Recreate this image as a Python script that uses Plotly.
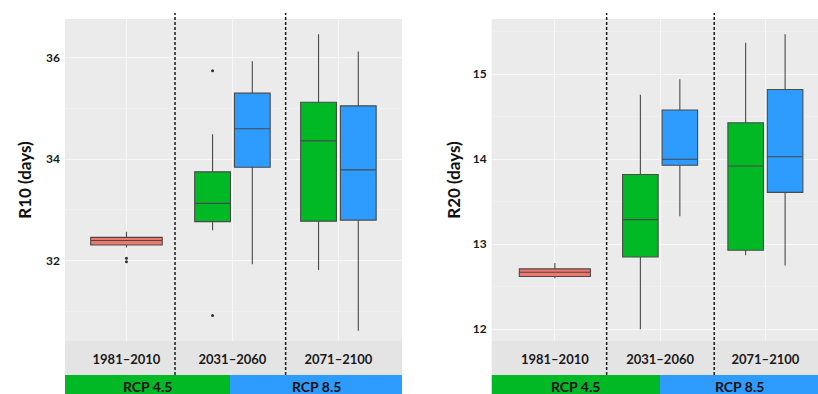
import plotly.graph_objects as go

# ---------------- data ----------------
periods = ["1981–2010", "2031–2060", "2071–2100"]
proj_periods = ["2031–2060", "2071–2100"]
scenarios = ["RCP 4.5", "RCP 8.5"]

# R10 (days) – box statistics
r10_hist_lower = [32.26]
r10_hist_q1 = [32.31]
r10_hist_med = [32.40]
r10_hist_q3 = [32.46]
r10_hist_upper = [32.57]
r10_hist_outliers = [[32.05, 31.98]]

r10_rcp45_lower = [32.60, 31.82]
r10_rcp45_q1 = [32.77, 32.78]
r10_rcp45_med = [33.13, 34.36]
r10_rcp45_q3 = [33.75, 35.12]
r10_rcp45_upper = [34.49, 36.46]
r10_rcp45_outliers = [[35.74, 30.92], []]

r10_rcp85_lower = [31.93, 30.62]
r10_rcp85_q1 = [33.84, 32.80]
r10_rcp85_med = [34.60, 33.79]
r10_rcp85_q3 = [35.30, 35.05]
r10_rcp85_upper = [35.93, 36.12]

# R20 (days)
r20_hist_lower = [12.60]
r20_hist_q1 = [12.62]
r20_hist_med = [12.67]
r20_hist_q3 = [12.71]
r20_hist_upper = [12.78]

r20_rcp45_lower = [12.00, 12.87]
r20_rcp45_q1 = [12.85, 12.93]
r20_rcp45_med = [13.29, 13.92]
r20_rcp45_q3 = [13.82, 14.43]
r20_rcp45_upper = [14.76, 15.37]

r20_rcp85_lower = [13.33, 12.75]
r20_rcp85_q1 = [13.93, 13.61]
r20_rcp85_med = [14.00, 14.03]
r20_rcp85_q3 = [14.58, 14.82]
r20_rcp85_upper = [14.94, 15.47]

# ---------------- style ----------------
hist_color = "#F2766B"
scen_colors = ["#00B924", "#2E9BFF"]
box_line = "#4a4a4a"
FONT = "Lato"
W, H = 818, 394

def px_x(p):
    return p / W

def px_y(p):
    return 1 - p / H

plot_top, plot_bot, strip_bot = 19, 341, 375
left_dom = [px_x(65), px_x(402)]
right_dom = [px_x(491.7), 1.0]
y_dom = [px_y(plot_bot), px_y(plot_top)]

fig = go.Figure()

def add_box(name, x, lo, q1, med, q3, hi, color, xa, ya, ag, og, outliers=None):
    if outliers is not None:
        kw = dict(y=outliers, boxpoints="outliers", jitter=0, pointpos=0,
                  marker=dict(color="#333333", size=3))
    else:
        kw = dict(boxpoints=False)
    fig.add_trace(go.Box(
        name=name, x=x, lowerfence=lo, q1=q1, median=med, q3=q3, upperfence=hi,
        fillcolor=color, line=dict(color=box_line, width=1.1), whiskerwidth=0,
        xaxis=xa, yaxis=ya, alignmentgroup=ag, offsetgroup=og, showlegend=False,
        **kw))

# left panel
add_box("Historical", periods[:1], r10_hist_lower, r10_hist_q1, r10_hist_med, r10_hist_q3,
        r10_hist_upper, hist_color, "x", "y", "hL", "hL", r10_hist_outliers)
add_box(scenarios[0], proj_periods, r10_rcp45_lower, r10_rcp45_q1, r10_rcp45_med, r10_rcp45_q3,
        r10_rcp45_upper, scen_colors[0], "x", "y", "pL", "g", r10_rcp45_outliers)
add_box(scenarios[1], proj_periods, r10_rcp85_lower, r10_rcp85_q1, r10_rcp85_med, r10_rcp85_q3,
        r10_rcp85_upper, scen_colors[1], "x", "y", "pL", "b")
# right panel
add_box("Historical", periods[:1], r20_hist_lower, r20_hist_q1, r20_hist_med, r20_hist_q3,
        r20_hist_upper, hist_color, "x2", "y2", "hR", "hR")
add_box(scenarios[0], proj_periods, r20_rcp45_lower, r20_rcp45_q1, r20_rcp45_med, r20_rcp45_q3,
        r20_rcp45_upper, scen_colors[0], "x2", "y2", "pR", "g")
add_box(scenarios[1], proj_periods, r20_rcp85_lower, r20_rcp85_q1, r20_rcp85_med, r20_rcp85_q3,
        r20_rcp85_upper, scen_colors[1], "x2", "y2", "pR", "b")

tickfont_x = dict(family=FONT, size=13, color="#1a1a1a", weight=700)
tickfont_y = dict(family=FONT, size=12, color="#1a1a1a", weight=700)
titlefont = dict(family=FONT, size=17, color="#111111", weight=700)

xcommon = dict(type="category", categoryorder="array", categoryarray=periods,
               showgrid=True, gridcolor="#F7F7F7", gridwidth=1, ticks="",
               tickfont=tickfont_x, ticklabelstandoff=9, zeroline=False, showline=False,
               fixedrange=True, automargin=False)
ycommon = dict(showgrid=True, gridcolor="#F7F7F7", gridwidth=1, ticks="",
               tickfont=tickfont_y, zeroline=False, showline=False, ticklabelstandoff=4,
               title_font=titlefont, domain=y_dom, automargin=False, fixedrange=True)

fig.update_layout(
    width=W, height=H, margin=dict(l=0, r=0, t=0, b=0, autoexpand=False),
    paper_bgcolor="white", plot_bgcolor="#EBEBEB",
    boxmode="group", boxgap=0.25, boxgroupgap=0.1,
    xaxis=dict(domain=left_dom, range=[-0.58, 2.6], anchor="y", **xcommon),
    xaxis2=dict(domain=right_dom, range=[-0.6, 2.5], anchor="y2", **xcommon),
    yaxis=dict(anchor="x", range=[30.42, 36.76], tick0=0, dtick=2,
               minor=dict(dtick=1, showgrid=True, gridcolor="#F2F2F2", gridwidth=0.6),
               title=dict(text="R10 (days)", standoff=10), **ycommon),
    yaxis2=dict(anchor="x2", range=[11.862, 15.65], tick0=0, dtick=1,
                minor=dict(dtick=0.5, showgrid=True, gridcolor="#F2F2F2", gridwidth=0.6),
                title=dict(text="R20 (days)", standoff=7), **ycommon),
)

shapes = []
annotations = []
# label strips and scenario bars
panels = [(left_dom, px_x(230)), (right_dom, px_x(660))]
for dom, split in panels:
    shapes.append(dict(type="rect", xref="paper", yref="paper", x0=dom[0], x1=dom[1],
                       y0=px_y(strip_bot), y1=px_y(plot_bot), fillcolor="#E4E4E4",
                       line=dict(width=0), layer="below"))
    edges = [dom[0], split, dom[1]]
    for i, (name, col) in enumerate(zip(scenarios, scen_colors)):
        shapes.append(dict(type="rect", xref="paper", yref="paper", x0=edges[i], x1=edges[i + 1],
                           y0=0, y1=px_y(strip_bot), fillcolor=col, line=dict(width=0),
                           layer="below"))
        annotations.append(dict(text=name, xref="paper", yref="paper",
                                x=(edges[i] + edges[i + 1]) / 2, y=px_y(386),
                                xanchor="center", yanchor="middle", showarrow=False,
                                font=dict(family=FONT, size=14, color="#111111", weight=700)))

# dashed period separators
separators = {"x": [0.458, 1.502], "x2": [0.492, 1.514]}
for xr, vals in separators.items():
    for v in vals:
        shapes.append(dict(type="line", xref=xr, yref="paper", x0=v, x1=v,
                           y0=px_y(strip_bot), y1=px_y(13),
                           line=dict(color="#1a1a1a", width=1.5, dash="3px,2px"),
                           layer="above"))

fig.update_layout(shapes=shapes, annotations=annotations)
fig.write_html(
    "out.html",
    config=dict(displayModeBar=False, staticPlot=True),
    post_script="document.body.style.margin='0';document.body.style.overflow='hidden';",
)
